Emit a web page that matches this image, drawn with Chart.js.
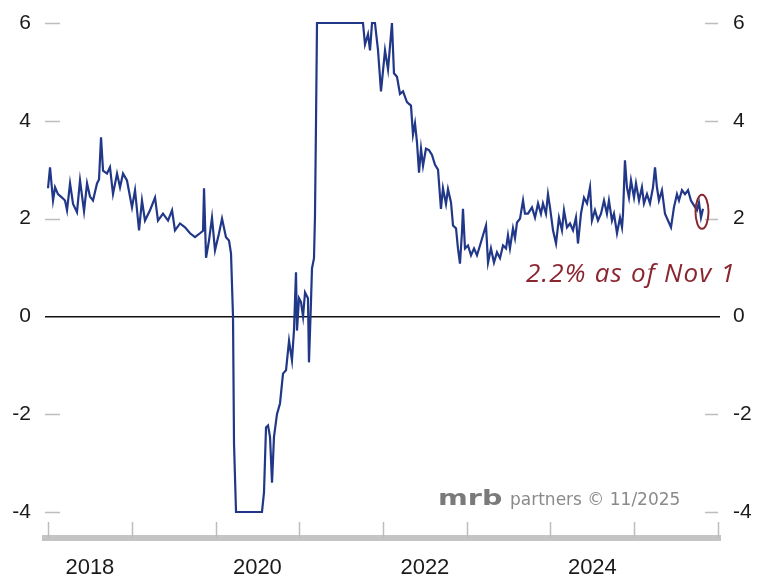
<!DOCTYPE html>
<html lang="en">
    <head>
        <meta charset="UTF-8">
        <title>mrb chart</title>
        <script src="https://cdn.jsdelivr.net/npm/chart.js"></script>
        <style>
            body { margin: 0; background: #fff; }
            #grafico { display: block; }
        </style>
    </head>
    <body>
        <canvas id="grafico" width="762" height="583"></canvas>
        <script>
            // fechas en años decimales, valores en %
            const fechas = [
                2018.000, 2018.024, 2018.060, 2018.084, 2018.119, 2018.167, 2018.203, 2018.227, 2018.263, 2018.299,
                2018.346, 2018.382, 2018.430, 2018.466, 2018.501, 2018.537, 2018.585, 2018.609, 2018.633, 2018.657,
                2018.704, 2018.740, 2018.776, 2018.824, 2018.860, 2018.896, 2018.943, 2019.003, 2019.039, 2019.087,
                2019.122, 2019.158, 2019.218, 2019.278, 2019.313, 2019.373, 2019.433, 2019.481, 2019.516, 2019.576,
                2019.636, 2019.696, 2019.755, 2019.815, 2019.851, 2019.863, 2019.887, 2019.922, 2019.958, 2019.994,
                2020.042, 2020.078, 2020.125, 2020.161, 2020.185, 2020.209, 2020.221, 2020.245, 2020.555, 2020.579,
                2020.603, 2020.627, 2020.651, 2020.675, 2020.698, 2020.734, 2020.770, 2020.806, 2020.842, 2020.878,
                2020.913, 2020.937, 2020.961, 2020.973, 2020.997, 2021.021, 2021.045, 2021.069, 2021.104, 2021.116,
                2021.140, 2021.152, 2021.176, 2021.188, 2021.200, 2021.212, 2021.761, 2021.785, 2021.821, 2021.845,
                2021.869, 2021.904, 2021.940, 2021.976, 2022.024, 2022.060, 2022.107, 2022.131, 2022.167, 2022.203,
                2022.239, 2022.286, 2022.334, 2022.358, 2022.382, 2022.406, 2022.430, 2022.454, 2022.478, 2022.513,
                2022.549, 2022.585, 2022.621, 2022.657, 2022.692, 2022.716, 2022.752, 2022.776, 2022.812, 2022.836,
                2022.872, 2022.895, 2022.919, 2022.943, 2022.955, 2022.979, 2023.015, 2023.051, 2023.087, 2023.122,
                2023.158, 2023.194, 2023.230, 2023.254, 2023.289, 2023.325, 2023.361, 2023.397, 2023.433, 2023.469,
                2023.492, 2023.516, 2023.552, 2023.576, 2023.600, 2023.636, 2023.672, 2023.695, 2023.731, 2023.779,
                2023.815, 2023.851, 2023.886, 2023.910, 2023.946, 2023.970, 2023.994, 2024.030, 2024.066, 2024.101,
                2024.137, 2024.161, 2024.197, 2024.233, 2024.269, 2024.304, 2024.328, 2024.364, 2024.400, 2024.436,
                2024.472, 2024.495, 2024.531, 2024.567, 2024.603, 2024.639, 2024.674, 2024.698, 2024.734, 2024.758,
                2024.794, 2024.830, 2024.854, 2024.866, 2024.889, 2024.913, 2024.937, 2024.961, 2024.997, 2025.021,
                2025.057, 2025.092, 2025.116, 2025.152, 2025.188, 2025.224, 2025.248, 2025.271, 2025.295, 2025.331,
                2025.367, 2025.403, 2025.439, 2025.474, 2025.510, 2025.534, 2025.570, 2025.606, 2025.642, 2025.677,
                2025.713, 2025.749, 2025.773, 2025.797, 2025.821
            ];
            const valores = [
                2.62, 3.05, 2.37, 2.64, 2.50, 2.43, 2.37, 2.17, 2.72, 2.30,
                2.13, 2.78, 2.15, 2.72, 2.45, 2.37, 2.72, 2.80, 3.66, 2.98,
                2.92, 3.05, 2.50, 2.92, 2.64, 2.92, 2.78, 2.23, 2.58, 1.76,
                2.37, 1.96, 2.17, 2.43, 1.96, 2.10, 1.96, 2.17, 1.76, 1.90,
                1.82, 1.70, 1.62, 1.70, 1.75, 2.62, 1.20, 1.55, 2.02, 1.35,
                1.70, 2.00, 1.62, 1.55, 1.29, 0.00, -2.60, -4.00, -4.00, -3.60,
                -2.27, -2.23, -2.47, -3.40, -2.47, -2.00, -1.78, -1.17, -1.10, -0.50,
                -0.90, -0.29, 0.90, -0.29, 0.37, 0.29, 0.00, 0.49, 0.37, -0.94,
                0.29, 0.98, 1.19, 2.06, 3.97, 6.00, 6.00, 5.56, 5.77, 5.44,
                6.00, 6.00, 5.45, 4.60, 5.44, 5.05, 6.00, 4.97, 4.90, 4.55,
                4.60, 4.38, 4.31, 3.72, 3.95, 3.56, 2.94, 3.43, 3.08, 3.43,
                3.40, 3.30, 3.10, 3.00, 2.20, 2.62, 2.30, 2.60, 2.33, 1.86,
                1.80, 1.39, 1.08, 1.72, 2.20, 1.39, 1.45, 1.25, 1.39, 1.25,
                1.45, 1.66, 1.86, 1.10, 1.39, 1.10, 1.31, 1.19, 1.45, 1.39,
                1.66, 1.39, 1.80, 1.60, 1.92, 2.00, 2.37, 2.10, 2.10, 2.23,
                2.02, 2.31, 2.10, 2.31, 2.10, 2.50, 2.23, 1.76, 1.49, 2.02,
                1.76, 2.17, 1.82, 1.90, 1.76, 2.02, 1.49, 2.10, 2.43, 2.31,
                2.64, 1.96, 2.17, 1.96, 2.10, 2.37, 2.10, 2.37, 1.96, 2.10,
                1.70, 2.02, 1.82, 2.10, 3.19, 2.64, 2.43, 2.78, 2.43, 2.72,
                2.37, 2.64, 2.31, 2.50, 2.31, 2.64, 3.05, 2.64, 2.37, 2.58,
                2.10, 1.96, 1.82, 2.23, 2.50, 2.37, 2.58, 2.50, 2.58, 2.37,
                2.27, 2.17, 2.33, 2.02, 2.20
            ];
            const ticksY = [-4, -2, 0, 2, 4, 6];
            const lineasAnio = [2018, 2019, 2020, 2021, 2022, 2023, 2024, 2025, 2026];
            const etiquetasAnio = [2018.5, 2020.5, 2022.5, 2024.5];
            const nota = '2.2% as of Nov 1';

            const colorLinea = '#213788';
            const colorGris = '#bdbdbd';
            const colorRojo = '#8a2630';

            const puntos = fechas.map((f, i) => ({ x: f, y: valores[i] }));

            // ejes y: ancho fijo y sin margen extra arriba/abajo
            function ajustarY(ancho) {
                return axis => {
                    axis.width = ancho;
                    axis.paddingTop = 0;
                    axis.paddingBottom = 0;
                };
            }

            const decoracion = {
                id: 'decoracion',
                beforeDatasetsDraw(chart) {
                    const c = chart.ctx;
                    const area = chart.chartArea;
                    const ys = chart.scales.y;
                    const xs = chart.scales.x;
                    c.save();
                    c.strokeStyle = colorGris;
                    c.lineWidth = 1.5;
                    // rayitas del eje y
                    ticksY.forEach(v => {
                        if (v === 0) return;
                        const py = Math.round(ys.getPixelForValue(v)) + 0.5;
                        c.beginPath();
                        c.moveTo(area.left, py);
                        c.lineTo(area.left + 15, py);
                        c.moveTo(area.right - 15, py);
                        c.lineTo(area.right - 2, py);
                        c.stroke();
                    });
                    // marcas de año sobre la barra gris
                    lineasAnio.forEach(a => {
                        const px = Math.round(xs.getPixelForValue(a)) + 0.5;
                        c.beginPath();
                        c.moveTo(px, area.bottom - 16);
                        c.lineTo(px, area.bottom);
                        c.stroke();
                    });
                    c.restore();
                },
                afterDraw(chart) {
                    const c = chart.ctx;
                    const xs = chart.scales.x;
                    const ys = chart.scales.y;
                    const n = fechas.length - 1;
                    const ex = xs.getPixelForValue(fechas[n]);
                    const ey = ys.getPixelForValue(valores[n]);
                    c.save();
                    // circulo en el ultimo dato
                    c.strokeStyle = colorRojo;
                    c.lineWidth = 2;
                    c.beginPath();
                    c.ellipse(ex - 1, ey + 3, 6.5, 17, 0, 0, Math.PI * 2);
                    c.stroke();
                    // nota
                    c.fillStyle = colorRojo;
                    c.font = 'italic 26px "Open Sans"';
                    c.letterSpacing = '1.2px';
                    c.textAlign = 'right';
                    c.textBaseline = 'alphabetic';
                    c.fillText(nota, 736, 282);
                    c.letterSpacing = '0px';
                    // marca de agua
                    c.textAlign = 'left';
                    c.fillStyle = '#7a7a7a';
                    c.font = 'bold 22px "DejaVu Sans"';
                    c.save();
                    c.translate(438, 505);
                    c.scale(1.3, 1);
                    c.fillText('mrb', 0, 0);
                    c.restore();
                    c.fillStyle = '#8a8a8a';
                    c.font = '17px "DejaVu Sans"';
                    c.fillText('partners © 11/2025', 510, 505);
                    c.restore();
                }
            };

            const ctx = document.getElementById('grafico').getContext('2d');
            const grafico = new Chart(ctx, {
                type: 'line',
                data: {
                    datasets: [{
                        data: puntos,
                        borderColor: colorLinea,
                        borderWidth: 2.2,
                        pointRadius: 0,
                        tension: 0,
                        fill: false
                    }]
                },
                options: {
                    responsive: false,
                    animation: false,
                    devicePixelRatio: 1,
                    layout: { padding: { top: 20, left: 0, right: 0, bottom: 0 } },
                    plugins: { legend: { display: false }, tooltip: { enabled: false } },
                    scales: {
                        x: {
                            type: 'linear',
                            min: 2017.964,
                            max: 2026.024,
                            afterBuildTicks: axis => { axis.ticks = etiquetasAnio.map(v => ({ value: v })); },
                            afterFit: axis => { axis.height = 45; },
                            grid: { display: false, drawTicks: false },
                            border: { display: true, color: '#c4c4c4', width: 6 },
                            ticks: {
                                padding: 17,
                                maxRotation: 0,
                                color: '#1a1a1a',
                                font: { family: 'Liberation Sans', size: 22 },
                                callback: v => String(Math.floor(v))
                            }
                        },
                        y: {
                            position: 'left',
                            min: -4.532,
                            max: 6.061,
                            afterBuildTicks: axis => { axis.ticks = ticksY.map(v => ({ value: v })); },
                            afterFit: ajustarY(45),
                            grid: {
                                drawTicks: false,
                                lineWidth: 1.5,
                                color: c => c.tick && c.tick.value === 0 ? '#111' : 'rgba(0,0,0,0)'
                            },
                            border: { display: false },
                            ticks: {
                                padding: 14,
                                color: '#1a1a1a',
                                font: { family: 'Liberation Sans', size: 21 }
                            }
                        },
                        y2: {
                            position: 'right',
                            min: -4.532,
                            max: 6.061,
                            afterBuildTicks: axis => { axis.ticks = ticksY.map(v => ({ value: v })); },
                            afterFit: ajustarY(42),
                            grid: { display: false, drawTicks: false },
                            border: { display: false },
                            ticks: {
                                padding: 13,
                                color: '#1a1a1a',
                                font: { family: 'Liberation Sans', size: 21 }
                            }
                        }
                    }
                },
                plugins: [decoracion]
            });
        </script>
    </body>
</html>
